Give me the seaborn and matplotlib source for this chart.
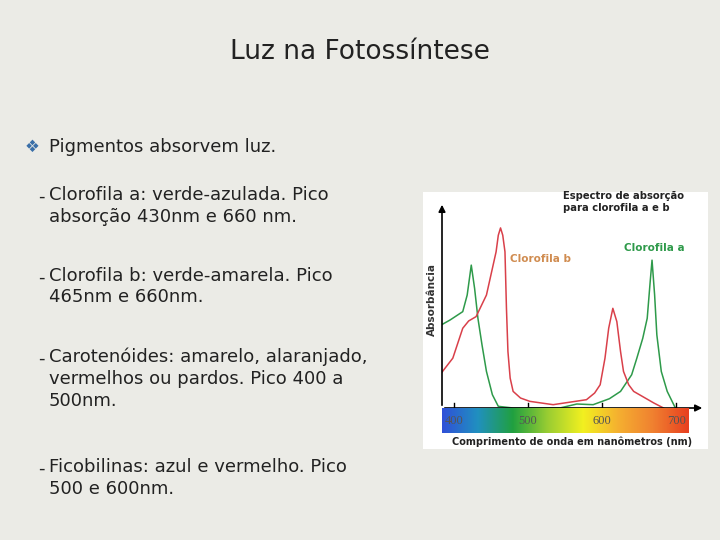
import numpy as np
import pandas as pd
import seaborn as sns
import matplotlib.pyplot as plt
from matplotlib.patches import Rectangle
from matplotlib.colors import LinearSegmentedColormap

# Dados (absorbância em unidades arbitrárias)
nm_a = [383, 395, 412, 418, 423.5, 428, 432.5, 438, 444, 452, 460, 480, 543, 566, 588, 610, 625, 640, 647, 655, 661, 665, 667.5, 671, 674, 680, 688, 699]
abs_a = [250, 265, 290, 340, 430, 360, 270, 190, 110, 40, 5, 0, 0, 12, 10, 28, 50, 100, 150, 210, 270, 380, 445, 340, 220, 110, 50, 0]
nm_b = [383, 398.6, 412, 420, 430, 444, 452, 457, 460, 463, 466, 469, 471, 473, 476, 480, 490, 502.6, 534, 579, 590, 597.5, 604, 609, 614.6, 620, 625, 629, 636, 642.7, 670, 683]
abs_b = [105, 150, 240, 262, 275, 340, 420, 470, 520, 542, 520, 470, 300, 170, 90, 50, 30, 20, 10, 25, 45, 70, 150, 240, 300, 260, 170, 110, 70, 50, 15, 0]
ticks = [400, 500, 600, 700]

df = pd.concat([pd.DataFrame({"nm": nm_a, "abs": abs_a, "pig": "Clorofila a"}),
                pd.DataFrame({"nm": nm_b, "abs": abs_b, "pig": "Clorofila b"})])

fig = plt.figure(figsize=(7.2, 5.4), dpi=100)
fig.patch.set_facecolor("#ebebe6")

# Texto do slide
fig.text(0.5, 1 - 52/540, "Luz na Fotossíntese", ha="center", va="center", fontsize=19, color="#222222")
fig.text(25/720, 1 - 147/540, "❖", ha="left", va="center", fontsize=12, color="#3a6fa8")
fig.text(49/720, 1 - 147/540, "Pigmentos absorvem luz.", ha="left", va="center", fontsize=13, color="#222222")
itens = [(197, "Clorofila a: verde-azulada. Pico\nabsorção 430nm e 660 nm."),
         (278, "Clorofila b: verde-amarela. Pico\n465nm e 660nm."),
         (359, "Carotenóides: amarelo, alaranjado,\nvermelhos ou pardos. Pico 400 a\n500nm."),
         (469, "Ficobilinas: azul e vermelho. Pico\n500 e 600nm.")]
for y, t in itens:
    fig.text(38/720, 1 - y/540, "-", ha="left", va="center", fontsize=13, color="#222222")
    fig.text(49/720, 1 - (y - 11)/540, t, ha="left", va="top", fontsize=13, color="#222222",
             linespacing=1.25)

# Painel branco
fig.patches.append(Rectangle((423/720, 1 - 449/540), 285/720, 257/540, transform=fig.transFigure,
                             facecolor="white", edgecolor="none", zorder=-5))

ax = fig.add_axes([442/720, (540-408)/540, 263/720, 206/540])
ax.set_facecolor("none")
sns.lineplot(data=df, x="nm", y="abs", hue="pig", palette={"Clorofila a": "#2e9a4a", "Clorofila b": "#d9404a"},
             legend=False, lw=1.1, ax=ax)
ax.set_xlim(384, 739)
ax.set_ylim(0, 620)
for s in ax.spines.values():
    s.set_visible(False)
ax.set_xticks([])
ax.set_yticks([])
ax.set_xlabel("")
ax.set_ylabel("")
ax.annotate("", xy=(739, 0), xytext=(384, 0), arrowprops=dict(arrowstyle="-|>", color="black", lw=1.2),
            annotation_clip=False)
ax.annotate("", xy=(384, 620), xytext=(384, 0), arrowprops=dict(arrowstyle="-|>", color="black", lw=1.2),
            annotation_clip=False)
for t in ticks:
    ax.plot([t, t], [0, 14], color="black", lw=1)

# Barra de espectro
cmap = LinearSegmentedColormap.from_list("esp", ["#3050d8", "#2090c0", "#20a040", "#9acd32", "#f2f020", "#f5b030", "#f08030", "#e84020"])
cax = fig.add_axes([442/720, (540-433)/540, 247/720, 25/540])
cax.imshow(np.linspace(0, 1, 256)[None, :], aspect="auto", cmap=cmap, extent=[384, 717, 0, 1])
cax.set_axis_off()
for t in ticks:
    cax.text(t, 0.5, str(t), ha="center", va="center", fontsize=9, color="#555555", family="Liberation Serif")

fig.text(432/720, 1 - 300/540, "Absorbância", rotation=90, ha="center", va="center", fontsize=7.5, fontweight="bold", color="#333333")
fig.text(572/720, 1 - 442/540, "Comprimento de onda em nanômetros (nm)", ha="center", va="center", fontsize=7, fontweight="bold", color="#222222")
fig.text(563/720, 1 - 191/540, "Espectro de absorção\npara clorofila a e b", ha="left", va="top", fontsize=7.2, fontweight="bold", color="#222222")
fig.text(624/720, 1 - 248/540, "Clorofila a", ha="left", va="center", fontsize=7.5, fontweight="bold", color="#2e9a4a")
fig.text(510/720, 1 - 259/540, "Clorofila b", ha="left", va="center", fontsize=7.5, fontweight="bold", color="#d08c50")

fig.savefig("out.png", dpi=100, facecolor=fig.get_facecolor())
